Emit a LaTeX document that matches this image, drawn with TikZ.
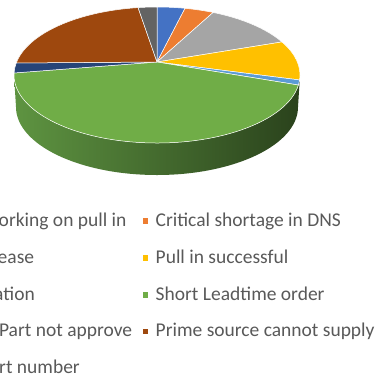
\documentclass[tikz,border=0pt]{standalone}
\usepackage{fontspec}
\setmainfont{Carlito}
\definecolor{cBlue}{HTML}{4472C4}
\definecolor{cOrange}{HTML}{ED7D31}
\definecolor{cGray}{HTML}{A5A5A5}
\definecolor{cGold}{HTML}{FFC000}
\definecolor{cLBlue}{HTML}{5B9BD5}
\definecolor{cGreen}{HTML}{70AD47}
\definecolor{cDBlue}{HTML}{264478}
\definecolor{cBrown}{HTML}{9E480E}
\definecolor{cDGray}{HTML}{636363}
\definecolor{sideL}{HTML}{5E9441}
\definecolor{sideR}{HTML}{2A421C}
\definecolor{legtxt}{HTML}{595959}
\begin{document}
\begin{tikzpicture}[x=1pt,y=1pt,
  legtext/.style={inner sep=0pt, text=legtxt, font=\fontsize{19.5}{23}\selectfont},
  mk/.style={inner sep=0pt, minimum size=5.7pt, draw=none},
  slice/.style={draw=white, line width=0.5pt, line join=round}]
\useasboundingbox (0,0) rectangle (382,-378);
\fill[white] (0,0) rectangle (382,-378);
\coordinate (C) at (157,-75);
\coordinate (A) at (157,-62);
% side of the pie
\shade[left color=sideL, right color=sideR]
  (C) ++(0:143 and 68) coordinate (s0)
  arc[start angle=0, end angle=-180, x radius=143, y radius=68]
  -- (16,-107)
  arc[start angle=180, end angle=360, x radius=141, y radius=68]
  -- cycle;
% slices of the top face
\foreach \a/\b/\c in {90/78.7/cBlue, 78.7/66.9/cOrange, 66.9/29.1/cGray,
  29.1/-4.2/cGold, -4.2/-8.5/cLBlue, -8.5/-181.7/cGreen,
  178.3/169.8/cDBlue, 169.8/97.6/cBrown, 97.6/90/cDGray}{
  \path (C) ++(\a:143 and 68) coordinate (p);
  \filldraw[slice, fill=\c] (A) -- (p)
    arc[start angle=\a, end angle=\b, x radius=143, y radius=68] -- cycle;
}
% legend, left column (cut off by the left edge)
\node[legtext, anchor=base east] (l1) at (126.7,-226.5) {orking on pull in};
\node[legtext, anchor=base east] (l3) at (34.3,-263.3) {ease};
\node[legtext, anchor=base east] (l5) at (35,-300.1) {ation};
\node[legtext, anchor=base east] (l7) at (132.3,-336.9) {Part not approve};
\node[legtext, anchor=base east] (l9) at (80,-373.7) {rt number};
% legend, right column
\node[mk, fill=cOrange] (m2) at (145.5,-221.2) {};
\node[mk, fill=cGold]   (m4) at (145.5,-258.0) {};
\node[mk, fill=cGreen]  (m6) at (145.5,-294.8) {};
\node[mk, fill=cBrown]  (m8) at (145.5,-331.6) {};
\node[legtext, anchor=base west] (l2) at (155.5,-226.5) {Critical shortage in DNS};
\node[legtext, anchor=base west] (l4) at (155.5,-263.3) {Pull in successful};
\node[legtext, anchor=base west] (l6) at (155.5,-300.1) {Short Leadtime order};
\node[legtext, anchor=base west] (l8) at (155.5,-336.9) {Prime source cannot supply};
\end{tikzpicture}
\end{document}
